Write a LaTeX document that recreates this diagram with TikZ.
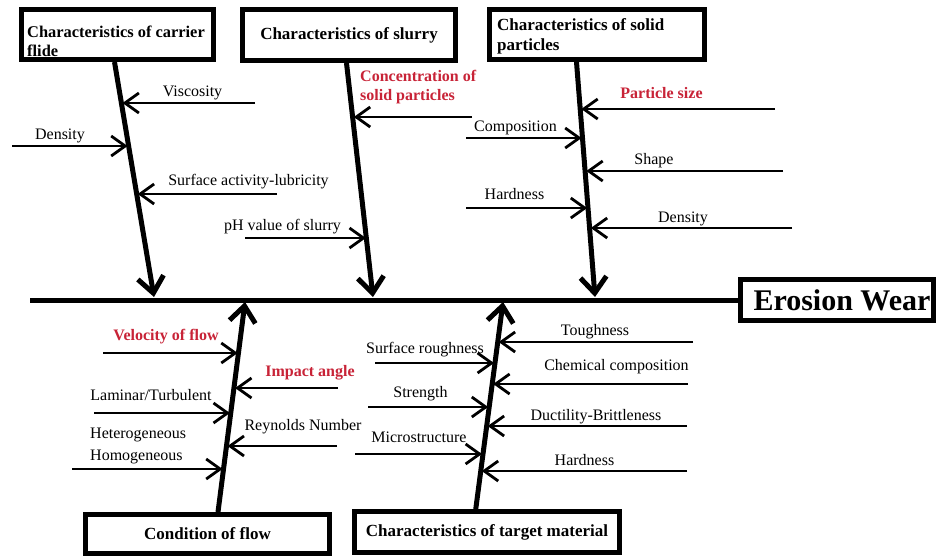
\documentclass[tikz,border=0pt]{standalone}
\usepackage{fontspec}
\setmainfont{Liberation Serif}
\usetikzlibrary{arrows.meta,calc}
\definecolor{myred}{RGB}{200,35,55}
\begin{document}
\begin{tikzpicture}[x=1pt,y=-1pt,
 box/.style={draw, line width=5pt, inner sep=0pt},
 ttl/.style={font=\bfseries\fontsize{17}{19.5}\selectfont},
 lbl/.style={font=\fontsize{16}{19}\selectfont, inner sep=0pt, anchor=base},
 rlbl/.style={font=\bfseries\fontsize{16}{19}\selectfont, inner sep=0pt, anchor=base, text=myred},
 bone/.style={line width=5pt, -{Straight Barb[length=16pt,width=26pt]}},
 twig/.style={line width=2.8pt, -{Straight Barb[length=14pt,width=20pt]}}
]
\fill[white] (0,0) rectangle (936,558);
\useasboundingbox (0,0) rectangle (936,558);

% category boxes
\node[box, minimum width=192pt, minimum height=50pt] (cf) at (117.5,34.5) {};
\node[anchor=north west, align=left, inner sep=0pt, font=\bfseries\fontsize{16.4}{19}\selectfont] (cft) at (27,25.5) {Characteristics of carrier\\flide};
\node[box, ttl, minimum width=213pt, minimum height=51pt] (sl) at (349,35) {Characteristics of slurry};
\node[box, minimum width=215pt, minimum height=50pt] (sp) at (597,34.5) {};
\node[anchor=north west, align=left, inner sep=0pt, font=\bfseries\fontsize{17}{20}\selectfont] (spt) at (497,18.3) {Characteristics of solid\\particles};
\node[box, ttl, minimum width=244pt, minimum height=39pt] (cof) at (207.5,534) {Condition of flow\hspace{14pt}};
\node[box, ttl, minimum width=265pt, minimum height=41pt] (tm) at (487,532) {Characteristics of target material};
\node[box, font=\bfseries\fontsize{30}{34}\selectfont, minimum width=193pt, minimum height=41pt] (ew) at (837,300) {\hspace{10pt}Erosion Wear};

% spine
\coordinate (sL) at (30,300);
\draw[line width=5pt] (sL) -- (ew.west);

% bones
\coordinate (b1s) at (114.5,62);  \coordinate (b1e) at (154,297);
\coordinate (b2s) at (346.5,63);  \coordinate (b2e) at (373,297);
\coordinate (b3s) at (576.5,62);  \coordinate (b3e) at (595,297);
\coordinate (b4s) at (218,512);   \coordinate (b4e) at (245,302);
\coordinate (b5s) at (475.5,511); \coordinate (b5e) at (503,302);
\draw[bone] (b1s) -- (b1e);
\draw[bone] (b2s) -- (b2e);
\draw[bone] (b3s) -- (b3e);
\draw[bone] (b4s) -- (b4e);
\draw[bone] (b5s) -- (b5e);

% carrier fluid
\coordinate (t1s) at (255,103); \coordinate (t1e) at (122.5,103);
\coordinate (t2s) at (12,146);  \coordinate (t2e) at (127.6,146);
\coordinate (t3s) at (277,194); \coordinate (t3e) at (137.7,194);
\draw[twig] (t1s) -- (t1e);
\draw[twig] (t2s) -- (t2e);
\draw[twig] (t3s) -- (t3e);
\node[lbl] (l1) at (192.5,96.7) {Viscosity};
\node[lbl] (l2) at (60,139.5) {Density};
\node[lbl] (l3) at (248.5,185) {Surface activity-lubricity};

% slurry
\coordinate (t4s) at (245,238); \coordinate (t4e) at (365.9,238);
\coordinate (t5s) at (472,117); \coordinate (t5e) at (353.8,117);
\draw[twig] (t4s) -- (t4e);
\draw[twig] (t5s) -- (t5e);
\node[lbl] (l4) at (282.5,230) {pH value of slurry};
\node[rlbl, anchor=north west, align=left, font=\bfseries\fontsize{16}{19}\selectfont] (l5) at (360,70) {Concentration of\\solid particles};

% solid particles
\coordinate (t6s) at (775,109);  \coordinate (t6e) at (581.3,109);
\coordinate (t7s) at (466,138);  \coordinate (t7e) at (581.6,138);
\coordinate (t8s) at (783,171);  \coordinate (t8e) at (586.3,171);
\coordinate (t9s) at (466,208);  \coordinate (t9e) at (587.2,208);
\coordinate (t10s) at (792,228); \coordinate (t10e) at (590.8,228);
\draw[twig] (t6s) -- (t6e);
\draw[twig] (t7s) -- (t7e);
\draw[twig] (t8s) -- (t8e);
\draw[twig] (t9s) -- (t9e);
\draw[twig] (t10s) -- (t10e);
\node[rlbl] (l6) at (661.5,98) {Particle size};
\node[lbl] (l7) at (515.5,131.7) {Composition};
\node[lbl] (l8) at (654,164) {Shape};
\node[lbl] (l9) at (514.5,199) {Hardness};
\node[lbl] (l10) at (683,222.7) {Density};

% condition of flow
\coordinate (t11s) at (103,353); \coordinate (t11e) at (237.7,353);
\coordinate (t12s) at (338,388); \coordinate (t12e) at (235.1,388);
\coordinate (t13s) at (94,413);  \coordinate (t13e) at (229.9,413);
\coordinate (t14s) at (337,446); \coordinate (t14e) at (227.6,446);
\coordinate (t15s) at (72,469);  \coordinate (t15e) at (222.6,469);
\draw[twig] (t11s) -- (t11e);
\draw[twig] (t12s) -- (t12e);
\draw[twig] (t13s) -- (t13e);
\draw[twig] (t14s) -- (t14e);
\draw[twig] (t15s) -- (t15e);
\node[rlbl] (l11) at (166,340) {Velocity of flow};
\node[rlbl] (l12) at (310,376.7) {Impact angle};
\node[lbl] (l13) at (151,400.7) {Laminar/Turbulent};
\node[lbl] (l14) at (303,430) {Reynolds Number};
\node[lbl, anchor=north west, align=left, font=\fontsize{16}{22}\selectfont] (l15) at (90,428) {Heterogeneous\\Homogeneous};

% target material
\coordinate (t16s) at (693,342); \coordinate (t16e) at (498.7,342);
\coordinate (t17s) at (375,363); \coordinate (t17e) at (494,363);
\coordinate (t18s) at (688,384); \coordinate (t18e) at (493.2,384);
\coordinate (t19s) at (368,407); \coordinate (t19e) at (488.2,407);
\coordinate (t20s) at (687,426); \coordinate (t20e) at (487.7,426);
\coordinate (t21s) at (355,454); \coordinate (t21e) at (482,454);
\coordinate (t22s) at (687,471); \coordinate (t22e) at (481.8,471);
\draw[twig] (t16s) -- (t16e);
\draw[twig] (t17s) -- (t17e);
\draw[twig] (t18s) -- (t18e);
\draw[twig] (t19s) -- (t19e);
\draw[twig] (t20s) -- (t20e);
\draw[twig] (t21s) -- (t21e);
\draw[twig] (t22s) -- (t22e);
\node[lbl] (l16) at (595,335) {Toughness};
\node[lbl] (l17) at (425,353) {Surface roughness};
\node[lbl] (l18) at (616.5,370.7) {Chemical composition};
\node[lbl] (l19) at (420.5,397) {Strength};
\node[lbl] (l20) at (596,420) {Ductility-Brittleness};
\node[lbl] (l21) at (419,442.7) {Microstructure};
\node[lbl] (l22) at (584.5,465) {Hardness};
\end{tikzpicture}
\end{document}
